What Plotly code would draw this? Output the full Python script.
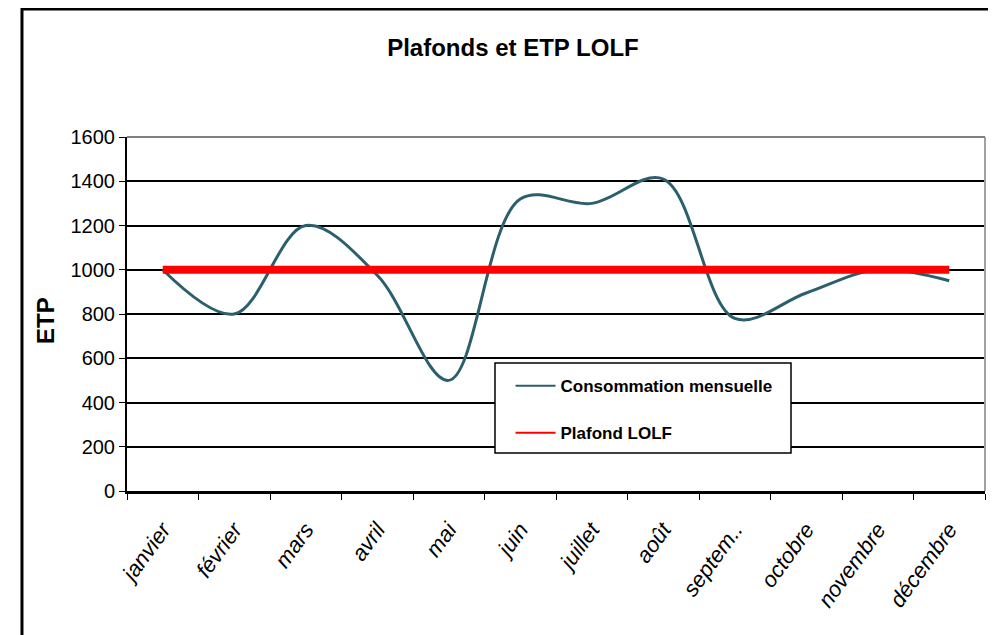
import plotly.graph_objects as go

mois = ["janvier", "février", "mars", "avril", "mai", "juin", "juillet",
        "août", "septem..", "octobre", "novembre", "décembre"]
consommation = [1000, 800, 1200, 975, 500, 1320, 1300, 1410, 780, 895, 1000, 950]
plafond = [1000] * 12

y_ticks = [0, 200, 400, 600, 800, 1000, 1200, 1400, 1600]

NARROW = "Liberation Sans Narrow, Arial Narrow, Liberation Sans, Arial, sans-serif"
ARIAL = "Liberation Sans, Arial, sans-serif"

TEAL = "#2b5f6d"
RED = "#ff0000"

fig = go.Figure()
fig.add_trace(go.Scatter(x=mois, y=consommation, mode="lines",
                         line=dict(color=TEAL, width=3, shape="spline", smoothing=1.0),
                         showlegend=False))
fig.add_trace(go.Scatter(x=mois, y=plafond, mode="lines",
                         line=dict(color=RED, width=8),
                         showlegend=False))
# legend entries with thin sample lines
fig.add_trace(go.Scatter(x=[None], y=[None], mode="lines", name="<b>Consommation mensuelle</b>",
                         legendgroup="a", line=dict(color=TEAL, width=2)))
fig.add_trace(go.Scatter(x=[None], y=[None], mode="lines", name="<b>Plafond LOLF</b>",
                         legendgroup="b", line=dict(color=RED, width=2)))

fig.update_layout(
    width=996, height=635,
    margin=dict(l=119, r=19, t=129, b=152),
    paper_bgcolor="white", plot_bgcolor="white",
    title=dict(text="<b>Plafonds et ETP LOLF</b>", x=0.507, xanchor="center",
               y=0.937, yanchor="middle",
               font=dict(family=NARROW, size=24, color="black")),
    legend=dict(x=0.447, y=0.347, xanchor="left", yanchor="top",
                bgcolor="rgba(0,0,0,0)", borderwidth=0,
                font=dict(family=NARROW, size=17, color="black"),
                itemwidth=40, tracegroupgap=22),
    showlegend=True,
)

fig.update_xaxes(
    type="category", tickson="boundaries", ticks="outside", ticklen=6,
    tickcolor="black", tickwidth=1,
    tickvals=mois, ticktext=[f"<i>{m}</i>" for m in mois],
    showline=True, linecolor="black", linewidth=3,
    showgrid=False, tickangle=-54, ticklabelstandoff=14,
    tickfont=dict(family=ARIAL, size=22, color="black", style="italic"),
    range=[-0.5, 11.5],
)
fig.update_yaxes(
    range=[0, 1600], tickvals=y_ticks, ticks="outside", ticklen=6,
    tickcolor="black", showline=True, linecolor="black", linewidth=2,
    showgrid=True, gridcolor="black", gridwidth=2, zeroline=False,
    tickfont=dict(family=NARROW, size=20, color="black"),
)

fig.add_annotation(text="<b>ETP</b>", xref="paper", yref="paper",
                   x=-0.0956, y=0.483, xanchor="center", yanchor="middle",
                   textangle=-90, showarrow=False,
                   font=dict(family=ARIAL, size=24, color="black"))

# plot area right/top border
fig.add_shape(type="line", xref="paper", yref="paper", x0=1, x1=1, y0=0, y1=1,
              line=dict(color="#a0a0a0", width=2))
fig.add_shape(type="line", xref="paper", yref="paper", x0=0, x1=1, y0=1, y1=1,
              line=dict(color="#808080", width=2))
# legend box
fig.add_shape(type="rect", xref="paper", yref="paper",
              x0=0.4289, x1=0.7739, y0=0.1073, y1=0.3616,
              line=dict(color="black", width=1.5), fillcolor="white", layer="above")
# outer chart border
fig.add_shape(type="rect", xref="paper", yref="paper",
              x0=-0.1224, x1=1.05, y0=-0.6, y1=1.3616,
              line=dict(color="black", width=3), layer="below")

fig.write_html("out.html")
